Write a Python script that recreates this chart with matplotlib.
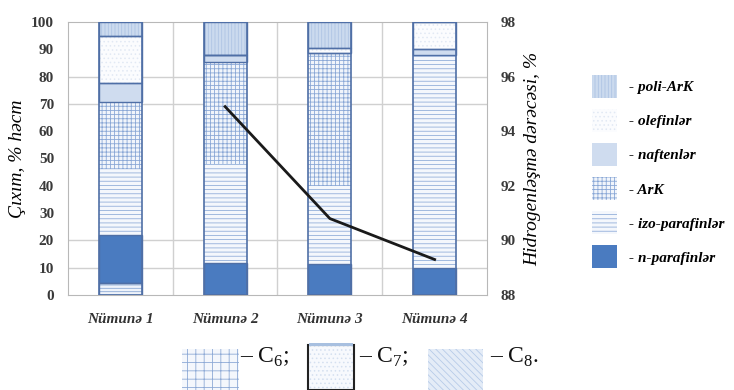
import matplotlib
matplotlib.use('Agg')
import matplotlib.pyplot as plt
import matplotlib.patches as mpatches
import numpy as np

plt.rcParams['font.family'] = ['Liberation Serif', 'DejaVu Serif']
plt.rcParams['mathtext.fontset'] = 'custom'
plt.rcParams['mathtext.rm'] = 'Liberation Serif'
plt.rcParams['hatch.linewidth'] = 0.6

samples = ['Nümunə 1', 'Nümunə 2', 'Nümunə 3', 'Nümunə 4']

# composition of each sample, % vol (bottom to top)
base_part = [4.3, 0, 0, 0]
n_paraffins = [17.7, 11.6, 11.2, 9.9]
iso_paraffins = [24.0, 36.4, 28.8, 78.1]
aromatics = [24.6, 37.5, 48.5, 0]
naphthenes = [6.9, 2.4, 0, 2.1]
olefins = [17.5, 0, 2.1, 9.9]
poly_aromatics = [5.0, 12.1, 9.4, 0]

# hydrogenation degree, %
hydro_x = [1, 2, 3]
hydro_degree = [94.9, 90.8, 89.3]

outline = '#4f6fa6'
series = [
    # values, face, hatch, hatch colour, legend label, outlined
    (base_part, '#eef3fa', '-----', '#8eaad6', None, True),
    (n_paraffins, '#4a7bc0', None, '#4a7bc0', '- n-parafinlər', True),
    (iso_paraffins, '#f4f7fc', '----', '#93afda', '- izo-parafinlər', False),
    (aromatics, '#f1f5fb', '++++', '#8aa8d6', '- ArK', False),
    (naphthenes, '#cfdcef', None, '#cfdcef', '- naftenlər', True),
    (olefins, '#fbfcfe', '....', '#e2e9f4', '- olefinlər', True),
    (poly_aromatics, '#cbdaee', '|||||', '#aec4e4', '- poli-ArK', True),
]

fig = plt.figure(figsize=(7.34, 3.9), dpi=100)
ax = fig.add_axes([0.0926, 0.2436, 0.5709, 0.7])

x = np.arange(len(samples))
width = 0.41
bottom = np.zeros(len(samples))
handles = []
for vals, face, hatch, hcol, label, edged in series:
    vals = np.array(vals, dtype=float)
    ax.bar(x, vals, width, bottom=bottom, color=face, hatch=hatch,
           edgecolor=hcol, linewidth=0, zorder=2)
    if edged:
        ax.bar(x, vals, width, bottom=bottom, fill=False,
               edgecolor=outline, linewidth=1.0, zorder=3)
    bottom += vals
    if label:
        handles.append(mpatches.Patch(facecolor=face, hatch=hatch,
                                      edgecolor=hcol, linewidth=0))

# outline round each whole column
ax.bar(x, bottom, width, fill=False, edgecolor=outline, linewidth=1.2, zorder=3)

# grid lines
for v in [10, 20, 70, 80]:
    ax.axhline(v, color='#d0d0d0', linewidth=1.0, zorder=1)
for b in [0.5, 1.5, 2.5]:
    ax.axvline(b, color='#d0d0d0', linewidth=1.0, zorder=1)

ax.set_xlim(-0.5, 3.5)
ax.set_ylim(0, 100)
ax.set_yticks(range(0, 101, 10))
ax.set_xticks(x)
ax.set_xticklabels(samples, fontsize=11, style='italic', fontweight='bold',
                   color='#333333')
ax.tick_params(axis='y', length=0, pad=10, labelsize=11, labelcolor='#3a3a3a')
ax.tick_params(axis='x', length=0, pad=13)
for t in ax.get_yticklabels():
    t.set_fontweight('bold')
for sp in ax.spines.values():
    sp.set_color('#b8b8b8')
ax.set_ylabel('Çıxım, % həcm', fontsize=14, style='italic', labelpad=4)

ax2 = ax.twinx()
ax2.plot(hydro_x, hydro_degree, color='#1a1a1a', linewidth=2.0, zorder=5)
ax2.set_ylim(88, 98)
ax2.set_yticks(range(88, 99, 2))
ax2.tick_params(axis='y', length=0, pad=10, labelsize=11, labelcolor='#3a3a3a')
for t in ax2.get_yticklabels():
    t.set_fontweight('bold')
for sp in ax2.spines.values():
    sp.set_visible(False)
ax2.set_ylabel('Hidrogenləşmə dərəcəsi, %', fontsize=14, style='italic',
               labelpad=6)

labels = [s[4] for s in series if s[4]]
fig.legend(handles[::-1], labels[::-1], loc='center left',
           bbox_to_anchor=(0.807, 0.56), frameon=False, borderpad=0,
           borderaxespad=0, handlelength=1.6, handleheight=1.9,
           labelspacing=0.75, handletextpad=0.8,
           prop={'family': 'Liberation Serif', 'style': 'italic',
                 'weight': 'bold', 'size': 11})

# carbon number key under the chart
def key_patch(x0, y0, w, h, **kw):
    fig.add_artist(mpatches.Rectangle((x0 / 734, 1 - (y0 + h) / 390),
                                      w / 734, h / 390,
                                      transform=fig.transFigure, **kw))

key_patch(182, 349, 57, 41, facecolor='#f4f7fc', hatch='++',
          edgecolor='#8eaad6', linewidth=0)
key_patch(308, 345, 46, 45, facecolor='#f7f9fd', hatch='....',
          edgecolor='#d5e0f0', linewidth=0)
key_patch(308, 345, 46, 45, fill=False, edgecolor='#222222', linewidth=1.5)
key_patch(309, 343, 44, 3, facecolor='#a8c0e0', linewidth=0)
key_patch(428, 349, 55, 41, facecolor='#e4ecf7', hatch='\\\\\\\\\\',
          edgecolor='#b7cbe8', linewidth=0)

for xt, txt in [(240, '– C$_6$;'), (359, '– C$_7$;'), (490, '– C$_8$.')]:
    fig.text(xt / 734, 1 - 363 / 390, txt, fontsize=17, color='#111111',
             ha='left', va='baseline')

fig.savefig('out.png', dpi=100)
